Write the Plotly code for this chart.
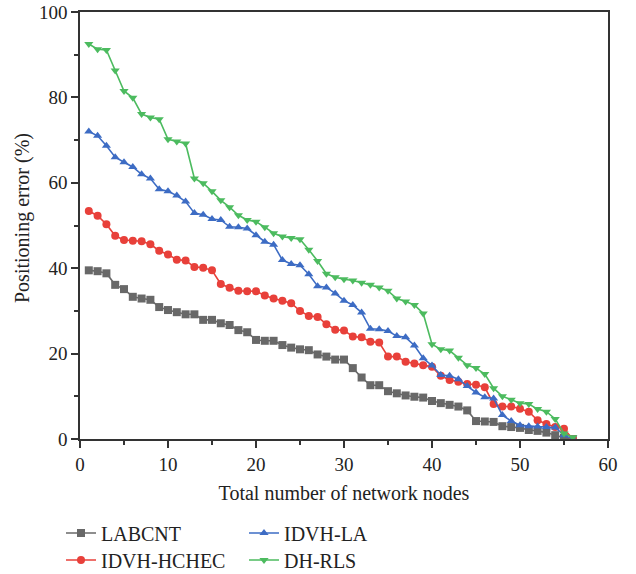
import plotly.graph_objects as go

nodes = list(range(1, 57))

labcnt = [39.5, 39.3, 38.8, 36.1, 35.1, 33.3, 32.9, 32.6, 30.9, 30.2,
          29.7, 29.2, 29.2, 27.9, 27.9, 27.1, 26.7, 25.5, 25.0, 23.2,
          23.0, 23.0, 22.0, 21.4, 21.0, 20.8, 19.8, 19.3, 18.6, 18.6,
          16.6, 14.4, 12.6, 12.6, 11.2, 10.7, 10.2, 9.9, 9.7, 8.9,
          8.4, 8.0, 7.6, 6.7, 4.2, 4.1, 4.0, 3.0, 2.8, 2.6,
          2.1, 1.9, 1.5, 0.9, 0.3, 0.0]

idvh_hchec = [53.4, 52.3, 50.3, 47.6, 46.6, 46.4, 46.3, 45.6, 44.1, 43.2,
              42.0, 41.8, 40.3, 40.1, 39.5, 36.3, 35.4, 34.7, 34.6, 34.6,
              33.6, 32.9, 32.4, 31.8, 30.0, 28.8, 28.6, 26.9, 25.6, 25.4,
              24.0, 23.8, 22.8, 22.6, 19.3, 19.3, 18.1, 17.7, 17.3, 16.9,
              14.8, 13.8, 13.4, 12.9, 12.7, 12.1, 8.2, 7.6, 7.6, 7.1,
              6.4, 4.4, 3.5, 2.8, 2.4, 0.0]

idvh_la = [72.0, 71.0, 68.7, 66.0, 64.8, 63.7, 62.0, 61.0, 58.5, 58.0,
           57.0, 55.6, 52.9, 52.5, 51.5, 51.3, 49.7, 49.6, 49.3, 47.7,
           46.2, 45.5, 41.9, 41.0, 40.7, 38.6, 35.8, 35.5, 34.1, 32.4,
           31.4, 29.6, 25.8, 25.7, 25.3, 24.1, 23.8, 21.9, 18.9, 17.2,
           15.0, 14.8, 14.0, 12.4, 10.9, 9.8, 9.5, 5.6, 4.2, 3.2,
           3.0, 2.9, 2.8, 2.7, 0.9, 0.0]

dh_rls = [92.5, 91.3, 91.1, 86.3, 81.5, 79.9, 76.1, 75.3, 74.9, 70.2,
          69.7, 69.2, 61.0, 59.9, 58.0, 55.9, 54.3, 52.4, 51.3, 50.9,
          49.6, 48.2, 47.4, 47.1, 46.8, 44.3, 41.7, 38.7, 37.9, 37.4,
          37.1, 36.6, 36.1, 35.5, 34.7, 32.9, 32.2, 31.4, 29.4, 22.2,
          21.0, 20.7, 19.0, 17.3, 16.6, 15.2, 11.9, 10.0, 9.2, 8.4,
          8.2, 7.0, 6.4, 4.7, 1.3, 0.4]

x_title = "Total number of network nodes"
y_title = "Positioning error (%)"

series = [
    ("LABCNT", labcnt, "#686868", "square", "legend"),
    ("IDVH-HCHEC", idvh_hchec, "#e8403a", "circle", "legend2"),
    ("IDVH-LA", idvh_la, "#3d6cc4", "triangle-up", "legend3"),
    ("DH-RLS", dh_rls, "#4cbb5f", "triangle-down", "legend4"),
]

FONT = "Liberation Serif"
fig = go.Figure()
for name, vals, color, sym, leg in series:
    fig.add_trace(go.Scatter(
        x=nodes, y=vals, name=name, mode="lines+markers",
        line=dict(color=color, width=1.6),
        marker=dict(symbol=sym, size=8, color=color, line=dict(width=0)),
        legend=leg,
    ))

W, H = 636, 574
L, R, T, B = 80, 28, 12, 135
PW, PH = W - L - R, H - T - B

def cx(p):
    return p / W

def cy(p):
    return 1 - p / H

leg_common = dict(font=dict(family=FONT, size=20, color="#222"),
                  bgcolor="rgba(0,0,0,0)", xanchor="left", yanchor="middle",
                  xref="container", yref="container",
                  itemwidth=30, tracegroupgap=0)

fig.update_layout(
    width=W, height=H,
    margin=dict(l=L, r=R, t=T, b=B, autoexpand=False),
    plot_bgcolor="white", paper_bgcolor="white",
    font=dict(family=FONT, color="#222"),
    showlegend=True,
    legend=dict(x=cx(61), y=cy(533), **leg_common),
    legend2=dict(x=cx(61), y=cy(560), **leg_common),
    legend3=dict(x=cx(244), y=cy(533), **leg_common),
    legend4=dict(x=cx(244), y=cy(560), **leg_common),
    xaxis=dict(
        range=[0, 60], dtick=10, tick0=0, automargin=True,
        showgrid=False, zeroline=False,
        showline=True, linecolor="#333", linewidth=1.5, mirror=True,
        ticks="outside", ticklen=7, tickwidth=1.5, tickcolor="#333",
        minor=dict(dtick=5, ticks="outside", ticklen=4, tickwidth=1.5, tickcolor="#333"),
        tickfont=dict(family=FONT, size=19, color="#222"),
        title=dict(text=x_title,
                   font=dict(family=FONT, size=20, color="#222"), standoff=12),
    ),
    yaxis=dict(
        range=[0, 100], dtick=20, tick0=0, automargin=False,
        showgrid=False, zeroline=False,
        showline=True, linecolor="#333", linewidth=1.5, mirror=True,
        ticks="outside", ticklen=7, tickwidth=1.5, tickcolor="#333",
        minor=dict(dtick=10, ticks="outside", ticklen=4, tickwidth=1.5, tickcolor="#333"),
        tickfont=dict(family=FONT, size=19, color="#222"),
    ),
    annotations=[dict(
        text=y_title, textangle=-90, showarrow=False,
        xref="paper", yref="paper",
        x=(22 - L) / PW, y=(H - B - 218) / PH,
        xanchor="center", yanchor="middle",
        font=dict(family=FONT, size=20, color="#222"),
    )],
)

# remove the default page margin so the figure sits at the window's top-left corner
fig.write_html("out.html", config={"displayModeBar": False},
               post_script="document.body.style.margin='0';")
